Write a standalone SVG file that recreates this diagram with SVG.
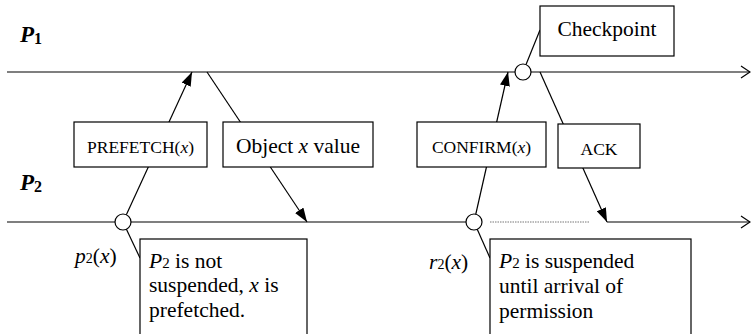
<svg xmlns="http://www.w3.org/2000/svg" width="751" height="334" viewBox="0 0 751 334">
<style>
.ln{stroke:#000;stroke-width:1.2;fill:none}
.box{fill:#fff;stroke:#000;stroke-width:1.2}
.ev{fill:#fff;stroke:#000;stroke-width:1.2}
text{font-family:"Liberation Serif","Times New Roman",serif;fill:#000}
.t{font-size:21.5px}
.sc{font-size:17.5px}
.lab{font-size:23px;font-weight:bold;font-style:italic}
.i{font-style:italic}
</style>
<defs>
<marker id="ah" markerUnits="userSpaceOnUse" markerWidth="14" markerHeight="10" viewBox="0 0 14 10" refX="14" refY="5" orient="auto">
<path d="M0,0 L14,5 L0,10 Z" fill="#000"/>
</marker>
</defs>
<g id="timelines">
<line class="ln" x1="7" y1="72" x2="750" y2="72"/>
<path class="ln" d="M741,66 L750,72 L741,78"/>
<line class="ln" x1="7" y1="222" x2="474" y2="222"/>
<line x1="490" y1="222" x2="590" y2="222" stroke="#777" stroke-width="1" stroke-dasharray="1.5,1"/>
<line class="ln" x1="607" y1="222" x2="750" y2="222"/>
<path class="ln" d="M741,216 L750,222 L741,228"/>
</g>
<g id="connectors">
<line class="ln" x1="123" y1="222" x2="192" y2="72" marker-end="url(#ah)"/>
<line class="ln" x1="207" y1="72" x2="307" y2="222" marker-end="url(#ah)"/>
<line class="ln" x1="474" y1="222" x2="508" y2="72" marker-end="url(#ah)"/>
<line class="ln" x1="540" y1="72" x2="607" y2="222" marker-end="url(#ah)"/>
<line class="ln" x1="523" y1="72" x2="540" y2="30"/>
<line class="ln" x1="123" y1="222" x2="140" y2="258"/>
<line class="ln" x1="474" y1="222" x2="490" y2="258"/>
</g>
<g id="label-p1"><text class="lab" x="20" y="42">P<tspan font-size="16" font-style="normal" dy="2">1</tspan></text></g>
<g id="label-p2"><text class="lab" x="20" y="190">P<tspan font-size="16" font-style="normal" dy="2">2</tspan></text></g>
<g id="prefetch"><rect class="box" x="74" y="122" width="133" height="45"/><text class="sc" x="140.5" y="153" text-anchor="middle">PREFETCH(<tspan class="i">x</tspan>)</text></g>
<g id="object-x"><rect class="box" x="223" y="122" width="150" height="45"/><text class="t" x="298" y="153" text-anchor="middle">Object  <tspan class="i">x</tspan> value</text></g>
<g id="confirm"><rect class="box" x="417" y="122" width="129" height="45"/><text class="sc" x="481.5" y="153" text-anchor="middle">CONFIRM(<tspan class="i">x</tspan>)</text></g>
<g id="ack"><rect class="box" x="558" y="124" width="82" height="44"/><text class="sc" x="599" y="155" text-anchor="middle">ACK</text></g>
<g id="checkpoint"><rect class="box" x="540" y="6" width="134" height="50"/><text class="t" x="607" y="36" text-anchor="middle">Checkpoint</text></g>
<g id="ev-ckpt"><circle class="ev" cx="523" cy="72" r="8"/></g>
<g id="ev-p2"><circle class="ev" cx="123" cy="222" r="8"/></g>
<g id="ev-r2"><circle class="ev" cx="474" cy="222" r="8"/></g>
<g id="label-p2x"><text class="t" x="75" y="263" font-size="20"><tspan class="i">p</tspan><tspan font-size="14">2</tspan>(<tspan class="i">x</tspan>)</text></g>
<g id="label-r2x"><text class="t" x="429" y="269" font-size="20"><tspan class="i">r</tspan><tspan font-size="14">2</tspan>(<tspan class="i">x</tspan>)</text></g>
<g id="note-p2"><rect class="box" x="140" y="239" width="167" height="110"/>
<text class="t" x="149" y="268"><tspan class="i">P</tspan><tspan font-size="15">2</tspan> is not</text>
<text class="t" x="149" y="292">suspended, <tspan class="i">x</tspan> is</text>
<text class="t" x="149" y="317">prefetched.</text></g>
<g id="note-r2"><rect class="box" x="490" y="239" width="201" height="110"/>
<text class="t" x="499" y="268"><tspan class="i">P</tspan><tspan font-size="15">2</tspan> is suspended</text>
<text class="t" x="499" y="293">until arrival of</text>
<text class="t" x="499" y="318">permission</text></g>
</svg>
